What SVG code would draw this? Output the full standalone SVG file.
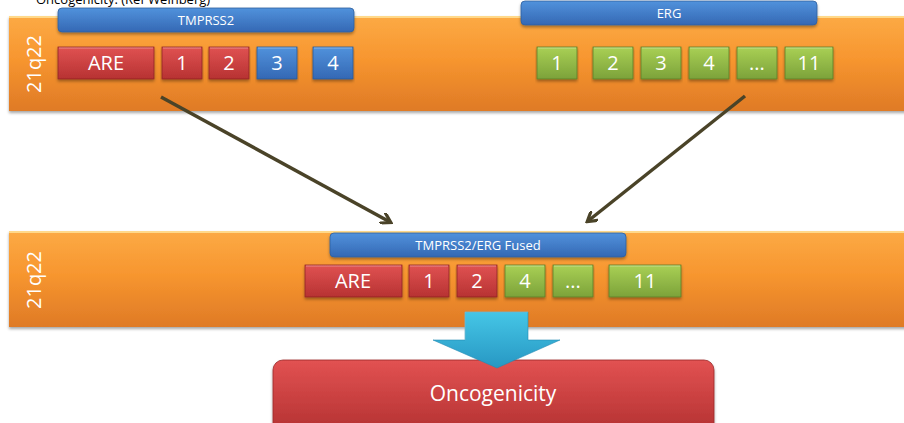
<svg xmlns="http://www.w3.org/2000/svg" width="904" height="423" viewBox="0 0 904 423">
  <defs>
    <linearGradient id="gOrange" x1="0" y1="0" x2="0" y2="1">
      <stop offset="0" stop-color="#fcaa45"/>
      <stop offset="0.45" stop-color="#f7962f"/>
      <stop offset="1" stop-color="#df7a26"/>
    </linearGradient>
    <linearGradient id="gRed" x1="0" y1="0" x2="0" y2="1">
      <stop offset="0" stop-color="#e05252"/>
      <stop offset="1" stop-color="#b73232"/>
    </linearGradient>
    <linearGradient id="gBlue" x1="0" y1="0" x2="0" y2="1">
      <stop offset="0" stop-color="#5192dc"/>
      <stop offset="1" stop-color="#3468b4"/>
    </linearGradient>
    <linearGradient id="gGreen" x1="0" y1="0" x2="0" y2="1">
      <stop offset="0" stop-color="#a9d055"/>
      <stop offset="1" stop-color="#7ca23a"/>
    </linearGradient>
    <linearGradient id="gCyan" x1="0" y1="0" x2="0" y2="1">
      <stop offset="0" stop-color="#45c6e6"/>
      <stop offset="1" stop-color="#2797c3"/>
    </linearGradient>
    <linearGradient id="gOnco" x1="0" y1="0" x2="0" y2="1">
      <stop offset="0" stop-color="#e25252"/>
      <stop offset="1" stop-color="#b23030"/>
    </linearGradient>
    <filter id="shadow" x="-5%" y="-20%" width="110%" height="150%">
      <feDropShadow dx="0" dy="2" stdDeviation="1.5" flood-color="#000" flood-opacity="0.35"/>
    </filter>
    <marker id="openHead" markerWidth="12" markerHeight="12" refX="9" refY="6" orient="auto" markerUnits="userSpaceOnUse">
      <path d="M1,0.5 L10,6 L1,11.5" fill="none" stroke="#4a4328" stroke-width="3.2" stroke-linecap="round" stroke-linejoin="miter"/>
    </marker>
  </defs>
  <style>
    text { font-family: "Open Sans", "Noto Sans", "Liberation Sans", sans-serif; fill: #ffffff; }
    .band { fill: url(#gOrange); filter: url(#shadow); }
    .bandTop { stroke: #ffd98a; stroke-width: 2; }
    .bar { fill: url(#gBlue); stroke: #2f5f9e; stroke-width: 0.8; filter: url(#shadow); }
    .barLbl { font-size: 13px; text-anchor: middle; }
    .red { fill: url(#gRed); stroke: #8f2424; stroke-width: 0.8; filter: url(#shadow); }
    .blue { fill: url(#gBlue); stroke: #2a5a98; stroke-width: 0.8; filter: url(#shadow); }
    .green { fill: url(#gGreen); stroke: #5e7d2a; stroke-width: 0.8; filter: url(#shadow); }
    .hl { stroke: #ffffff; stroke-opacity: 0.35; stroke-width: 1.2; }
    .lbl { font-size: 20px; text-anchor: middle; }
    .chr { font-size: 20px; text-anchor: middle; }
    .conn { fill: none; stroke: #4a4328; stroke-width: 3.5; marker-end: url(#openHead); }
  </style>

  <rect width="904" height="423" fill="#ffffff"/>

  <!-- caption running off the top edge -->
  <text x="36" y="4" font-size="13" style="fill:#000000">Oncogenicity. (Ref Weinberg)</text>

  <!-- chromosome band, original loci -->
  <g id="band-top">
    <rect class="band" x="9" y="16" width="900" height="95"/>
    <line class="bandTop" x1="9" y1="17" x2="904" y2="17"/>
    <text class="chr" transform="translate(41,64) rotate(-90)">21q22</text>
  </g>

  <g id="tmprss2">
    <rect class="bar" x="58" y="8" width="296" height="24" rx="4"/>
    <text class="barLbl" x="206" y="25">TMPRSS2</text>
  </g>
  <g id="tmprss2-are"><rect class="red" x="58" y="47" width="96" height="32"/><line class="hl" x1="59" y1="48" x2="153" y2="48"/><text class="lbl" x="106" y="70">ARE</text></g>
  <g id="tmprss2-ex1"><rect class="red" x="162" y="47" width="40" height="32"/><line class="hl" x1="163" y1="48" x2="201" y2="48"/><text class="lbl" x="182" y="70">1</text></g>
  <g id="tmprss2-ex2"><rect class="red" x="209" y="47" width="40" height="32"/><line class="hl" x1="210" y1="48" x2="248" y2="48"/><text class="lbl" x="229" y="70">2</text></g>
  <g id="tmprss2-ex3"><rect class="blue" x="257" y="47" width="40" height="32"/><line class="hl" x1="258" y1="48" x2="296" y2="48"/><text class="lbl" x="277" y="70">3</text></g>
  <g id="tmprss2-ex4"><rect class="blue" x="313" y="47" width="40" height="32"/><line class="hl" x1="314" y1="48" x2="352" y2="48"/><text class="lbl" x="333" y="70">4</text></g>

  <g id="erg">
    <rect class="bar" x="521" y="1" width="296" height="24" rx="4"/>
    <text class="barLbl" x="669" y="18">ERG</text>
  </g>
  <g id="erg-ex1"><rect class="green" x="537" y="47" width="40" height="32"/><line class="hl" x1="538" y1="48" x2="576" y2="48"/><text class="lbl" x="557" y="70">1</text></g>
  <g id="erg-ex2"><rect class="green" x="593" y="47" width="40" height="32"/><line class="hl" x1="594" y1="48" x2="632" y2="48"/><text class="lbl" x="613" y="70">2</text></g>
  <g id="erg-ex3"><rect class="green" x="641" y="47" width="40" height="32"/><line class="hl" x1="642" y1="48" x2="680" y2="48"/><text class="lbl" x="661" y="70">3</text></g>
  <g id="erg-ex4"><rect class="green" x="689" y="47" width="40" height="32"/><line class="hl" x1="690" y1="48" x2="728" y2="48"/><text class="lbl" x="709" y="70">4</text></g>
  <g id="erg-exdots"><rect class="green" x="737" y="47" width="40" height="32"/><line class="hl" x1="738" y1="48" x2="776" y2="48"/><text class="lbl" x="757" y="70">...</text></g>
  <g id="erg-ex11"><rect class="green" x="785" y="47" width="48" height="32"/><line class="hl" x1="786" y1="48" x2="832" y2="48"/><text class="lbl" x="809" y="70">11</text></g>

  <!-- chromosome band, fused locus -->
  <g id="band-bottom">
    <rect class="band" x="9" y="231" width="900" height="96"/>
    <line class="bandTop" x1="9" y1="232" x2="904" y2="232"/>
    <text class="chr" transform="translate(41,280) rotate(-90)">21q22</text>
  </g>

  <g id="fused">
    <rect class="bar" x="330" y="233" width="296" height="24" rx="4"/>
    <text class="barLbl" x="478" y="250">TMPRSS2/ERG Fused</text>
  </g>
  <g id="fused-are"><rect class="red" x="305" y="265" width="97" height="32"/><line class="hl" x1="306" y1="266" x2="401" y2="266"/><text class="lbl" x="353" y="288">ARE</text></g>
  <g id="fused-ex1"><rect class="red" x="409" y="265" width="40" height="32"/><line class="hl" x1="410" y1="266" x2="448" y2="266"/><text class="lbl" x="429" y="288">1</text></g>
  <g id="fused-ex2"><rect class="red" x="457" y="265" width="40" height="32"/><line class="hl" x1="458" y1="266" x2="496" y2="266"/><text class="lbl" x="477" y="288">2</text></g>
  <g id="fused-ex4"><rect class="green" x="505" y="265" width="40" height="32"/><line class="hl" x1="506" y1="266" x2="544" y2="266"/><text class="lbl" x="525" y="288">4</text></g>
  <g id="fused-exdots"><rect class="green" x="553" y="265" width="40" height="32"/><line class="hl" x1="554" y1="266" x2="592" y2="266"/><text class="lbl" x="573" y="288">...</text></g>
  <g id="fused-ex11"><rect class="green" x="609" y="265" width="72" height="32"/><line class="hl" x1="610" y1="266" x2="680" y2="266"/><text class="lbl" x="645" y="288">11</text></g>

  <!-- result -->
  <g id="oncogenicity">
    <rect x="273" y="360" width="441" height="75" rx="10" fill="url(#gOnco)" stroke="#9a2a2a" stroke-width="0.8" filter="url(#shadow)"/>
    <text x="493" y="401" font-size="21" text-anchor="middle">Oncogenicity</text>
  </g>

  <g id="connectors">
    <path class="conn" d="M161,97 L390,222"/>
    <path class="conn" d="M745,96 L588,221"/>
    <!-- block arrow from fused locus to outcome -->
    <polygon points="465,312 528,312 528,340 560,340 497,368 433,340 465,340" fill="url(#gCyan)" stroke="#2389b3" stroke-width="0.6"/>
    <polyline points="465,340 465,312 528,312" fill="none" stroke="#ffffff" stroke-opacity="0.3" stroke-width="1"/>
  </g>
</svg>
